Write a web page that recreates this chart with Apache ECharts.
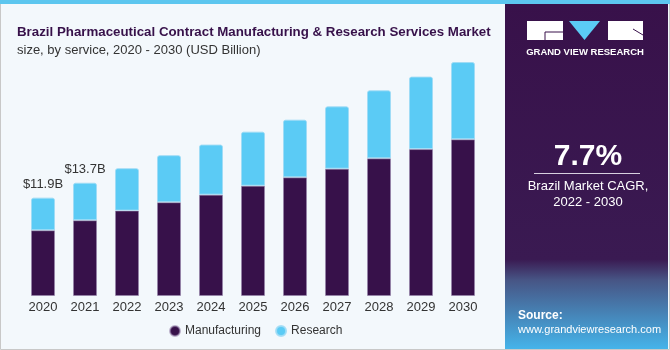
<!DOCTYPE html>
<html>
<head>
<meta charset="utf-8">
<script src="https://cdn.jsdelivr.net/npm/echarts@6/dist/echarts.min.js"></script>
<style>
  html, body { margin: 0; padding: 0; background: #f3f8fc; }
  #chart { width: 670px; height: 350px; }
</style>
</head>
<body>
<div id="chart"></div>
<script>
// data (USD Billion)
const years = ['2020', '2021', '2022', '2023', '2024', '2025', '2026', '2027', '2028', '2029', '2030']
const manufacturing = [7.95, 9.16, 10.33, 11.34, 12.26, 13.34, 14.35, 15.4, 16.65, 17.77, 18.95]
const research = [3.95, 4.54, 5.13, 5.69, 6.06, 6.54, 6.98, 7.54, 8.23, 8.77, 9.35]
const totalLabels = ['$11.9B', '$13.7B']

const PURPLE = '#37114a'
const BLUE = '#5bcbf5'
const FONT = '"Liberation Sans", Arial, sans-serif'

const chart = echarts.init(document.getElementById('chart'))

chart.setOption({
  backgroundColor: '#f3f8fc',
  animation: false,
  textStyle: { fontFamily: FONT },
  grid: { left: 22, width: 462, top: 48, bottom: 54, containLabel: false },
  legend: {
    left: 164,
    top: 320,
    icon: 'circle',
    itemWidth: 10,
    itemHeight: 10,
    itemGap: 14,
    textStyle: { fontSize: 12, color: '#333', fontFamily: FONT },
    data: ['Manufacturing', 'Research']
  },
  xAxis: {
    type: 'category',
    data: years,
    axisLine: { show: false },
    axisTick: { show: false },
    axisLabel: { color: '#333', fontSize: 13, margin: 5, fontFamily: FONT }
  },
  yAxis: {
    type: 'value',
    min: 0,
    max: 30,
    show: false
  },
  series: [
    {
      name: 'Manufacturing',
      type: 'bar',
      stack: 'total',
      barWidth: 24,
      itemStyle: { color: PURPLE, borderColor: 'rgba(150,130,170,0.6)', borderWidth: 1 },
      data: manufacturing
    },
    {
      name: 'Research',
      type: 'bar',
      stack: 'total',
      barWidth: 24,
      itemStyle: { color: BLUE, borderColor: 'rgba(160,220,245,0.9)', borderWidth: 1, borderRadius: [2, 2, 0, 0] },
      label: {
        show: true,
        position: 'top',
        distance: 7,
        color: '#333',
        fontSize: 13,
        fontFamily: FONT,
        formatter: (p) => totalLabels[p.dataIndex] || ''
      },
      data: research
    }
  ],
  graphic: [
    // top strip
    { type: 'rect', shape: { x: 0, y: 0, width: 670, height: 4 }, style: { fill: '#5cc6ef' }, z: 10 },
    // outer border
    { type: 'rect', shape: { x: 0.5, y: 3.5, width: 669, height: 346 }, style: { fill: 'none', stroke: '#c8c8c8', lineWidth: 1 }, z: 9 },
    // right panel
    {
      type: 'rect',
      shape: { x: 505, y: 4, width: 163, height: 345 },
      style: {
        fill: new echarts.graphic.LinearGradient(0, 0, 0, 1, [
          { offset: 0, color: '#38114a' },
          { offset: 0.74, color: '#3a1a52' },
          { offset: 0.8, color: '#475585' },
          { offset: 1, color: '#45b4ea' }
        ])
      },
      z: 5
    },
    // logo
    { type: 'rect', shape: { x: 527, y: 21, width: 36, height: 19 }, style: { fill: '#fff' }, z: 6 },
    { type: 'polyline', shape: { points: [[563, 32], [545, 32], [545, 40]] }, style: { stroke: '#38114a', lineWidth: 1, fill: 'none' }, z: 7 },
    { type: 'polygon', shape: { points: [[569, 21], [600, 21], [584.5, 40]] }, style: { fill: '#5bcbf5' }, z: 6 },
    { type: 'rect', shape: { x: 608, y: 21, width: 35, height: 19 }, style: { fill: '#fff' }, z: 6 },
    { type: 'line', shape: { x1: 633, y1: 29, x2: 643, y2: 35 }, style: { stroke: '#38114a', lineWidth: 1 }, z: 7 },
    {
      type: 'text', x: 585, y: 52, z: 6,
      style: { text: 'GRAND VIEW RESEARCH', fill: '#fff', font: 'bold 9.5px ' + FONT, align: 'center', verticalAlign: 'middle' }
    },
    // CAGR
    {
      type: 'text', x: 588, y: 157, z: 6,
      style: { text: '7.7%', fill: '#fff', font: 'bold 30px ' + FONT, align: 'center', verticalAlign: 'middle' }
    },
    { type: 'rect', shape: { x: 534, y: 173, width: 106, height: 1 }, style: { fill: '#d8d0e0' }, z: 6 },
    {
      type: 'text', x: 588, y: 186, z: 6,
      style: { text: 'Brazil Market CAGR,', fill: '#fff', font: '13px ' + FONT, align: 'center', verticalAlign: 'middle' }
    },
    {
      type: 'text', x: 588, y: 202, z: 6,
      style: { text: '2022 - 2030', fill: '#fff', font: '13px ' + FONT, align: 'center', verticalAlign: 'middle' }
    },
    // source
    {
      type: 'text', x: 518, y: 316, z: 6,
      style: { text: 'Source:', fill: '#fff', font: 'bold 12px ' + FONT, verticalAlign: 'middle' }
    },
    {
      type: 'text', x: 518, y: 330, z: 6,
      style: { text: 'www.grandviewresearch.com', fill: '#fff', font: '11px ' + FONT, verticalAlign: 'middle' }
    },
    // title
    {
      type: 'text', x: 17, y: 32, z: 6,
      style: { text: 'Brazil Pharmaceutical Contract Manufacturing & Research Services Market', fill: '#37114a', font: 'bold 13.3px ' + FONT, verticalAlign: 'middle' }
    },
    {
      type: 'text', x: 17, y: 50, z: 6,
      style: { text: 'size, by service, 2020 - 2030 (USD Billion)', fill: '#333', font: '13px ' + FONT, verticalAlign: 'middle' }
    }
  ]
})
</script>
</body>
</html>
